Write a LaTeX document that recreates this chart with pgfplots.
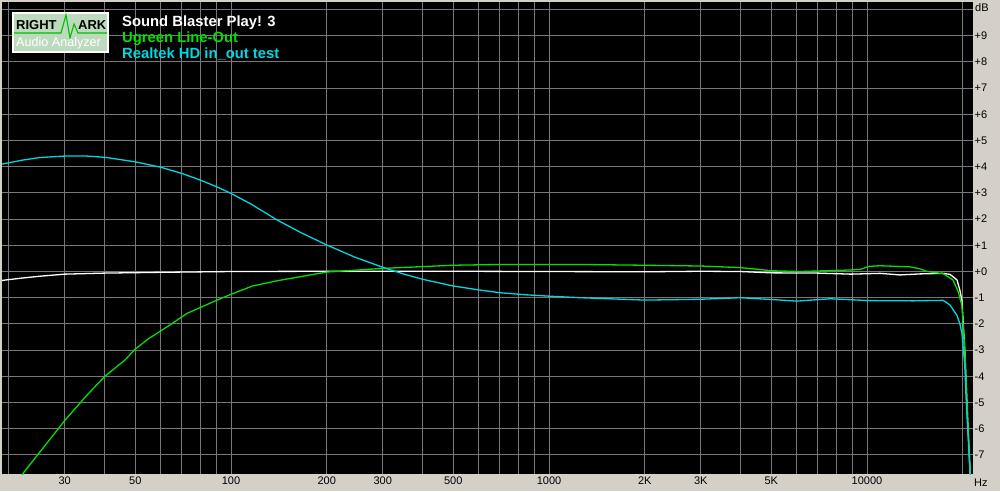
\documentclass[border=0pt]{standalone}
\usepackage{fontspec}
\setmainfont{Liberation Sans}
\usepackage{pgfplots}
\pgfplotsset{compat=1.18}
\definecolor{bgcol}{RGB}{212,208,200}
\definecolor{gridcol}{RGB}{120,120,120}
\definecolor{sbwhite}{RGB}{255,255,255}
\definecolor{uggreen}{RGB}{0,225,0}
\definecolor{rtcyan}{RGB}{0,215,225}
\definecolor{logobg}{RGB}{190,218,190}
\definecolor{logogreen}{RGB}{0,190,0}
\begin{document}
\begin{tikzpicture}[x=1pt,y=1pt]
\useasboundingbox (0,0) rectangle (1000,491);
\fill[bgcol] (0,0) rectangle (1000,491);
\begin{axis}[
  at={(2pt,17pt)}, anchor=south west,
  scale only axis, width=971pt, height=472pt,
  xmode=log, xmin=19.05, xmax=21544,
  ymin=-7.73, ymax=10.29,
  axis background/.style={fill=black},
  axis line style={draw=none},
  major tick length=0pt, minor tick length=0pt,
  xtick={30,50,100,200,300,500,1000,2000,3000,5000,10000},
  xticklabels={30,50,100,200,300,500,1000,2K,3K,5K,10000},
  minor xtick={20,40,60,70,80,90,400,600,700,800,900,4000,6000,7000,8000,9000,20000},
  ytick={-7,-6,-5,-4,-3,-2,-1,0,1,2,3,4,5,6,7,8,9,10},
  yticklabels={-7,-6,-5,-4,-3,-2,-1,+0,+1,+2,+3,+4,+5,+6,+7,+8,+9,{}},
  yticklabel pos=right,
  grid=both,
  major grid style={gridcol, line width=1pt},
  minor grid style={gridcol, line width=1pt},
  xticklabel style={anchor=north, inner sep=0pt, yshift=-3pt, font=\fontsize{11}{12}\selectfont, text=black},
  yticklabel style={anchor=west, inner sep=0pt, xshift=1.5pt, font=\fontsize{11}{12}\selectfont, text=black},
  every axis plot/.append style={line width=1.3pt, line join=round},
]
% Sound Blaster Play! 3
\addplot[sbwhite] coordinates {
(19.05,-0.34) (22,-0.25) (25,-0.18) (30,-0.1) (40,-0.06) (60,-0.03) (100,0) (200,0.01)
(300,0.01) (500,0.01) (1000,0.0) (2000,-0.01) (3000,0.01) (4000,0.0) (5000,-0.05) (7000,-0.06)
(8900,-0.1) (11000,-0.07) (12700,-0.13) (14700,-0.09) (17300,-0.07) (18250,-0.11)
(19190,-0.32) (19580,-0.7) (19880,-1.1) (20300,-3.0) (20700,-5.5) (21100,-7.7) (21300,-8.5)
};
% Ugreen Line-Out
\addplot[uggreen] coordinates {
(21.5,-8.0) (22.2,-7.7) (25.1,-6.88) (30.1,-5.67) (35.3,-4.71) (40.2,-3.99) (46.4,-3.38)
(49.9,-2.97) (54.8,-2.58) (64.3,-2.04) (72.7,-1.6) (90.4,-1.09) (100,-0.87) (117,-0.55)
(140,-0.35) (200,-0.02) (300,0.12) (500,0.24) (700,0.27) (1250,0.27) (2000,0.24)
(3000,0.21) (4000,0.15) (5000,0.03) (6150,0.0) (8870,0.06) (9500,0.08) (10190,0.2)
(11000,0.22) (13650,0.18) (14690,0.1) (15450,0.0) (17340,-0.08) (18640,-0.32)
(19330,-0.75) (19880,-1.3) (20300,-3.0) (20700,-5.5) (21100,-7.7) (21300,-8.5)
};
% Realtek HD in_out test
\addplot[rtcyan] coordinates {
(19.05,4.1) (22,4.25) (25,4.35) (30.1,4.41) (35,4.41) (40.2,4.36) (49.9,4.19) (60.2,3.98)
(70.7,3.73) (80.5,3.48) (90.4,3.23) (100,2.98) (114.7,2.6) (139.6,1.97) (165,1.5) (200.3,1.01)
(245,0.55) (300.4,0.16) (350,-0.1) (401.8,-0.3) (498.9,-0.55) (600,-0.7) (702,-0.81) (850,-0.89) (1000,-0.94) (1253,-1.0) (2000,-1.09)
(2978,-1.06) (3994,-1.0) (4870,-1.06) (6020,-1.13) (7660,-1.04) (10190,-1.11) (14000,-1.12)
(17340,-1.1) (18250,-1.28) (19190,-1.68) (19580,-1.98) (19880,-2.35) (20300,-3.6)
(20500,-4.9) (20900,-6.8) (21150,-7.96)
};
\end{axis}
% axis unit labels
\node[anchor=west, inner sep=0pt, font=\fontsize{11}{12}\selectfont] at (975,483.5) {dB};
\node[anchor=west, inner sep=0pt, font=\fontsize{11}{12}\selectfont] at (974,8) {Hz};
% legend
\node[anchor=base west, inner sep=0pt, text=sbwhite, font=\fontsize{14.8}{16}\selectfont\bfseries] at (122,464) {Sound Blaster Play! 3};
\node[anchor=base west, inner sep=0pt, text=uggreen, font=\fontsize{14.8}{16}\selectfont\bfseries] at (122,448) {Ugreen Line-Out};
\node[anchor=base west, inner sep=0pt, text=rtcyan, font=\fontsize{14.8}{16}\selectfont\bfseries] at (122,432) {Realtek HD in\_out test};
% logo
\fill[logobg] (13,439) rectangle (108,478);
\draw[white, line width=1.2pt] (13,439) rectangle (108,478);
\node[anchor=base west, inner sep=0pt, font=\fontsize{13}{14}\selectfont\bfseries] at (16,461) {RIGHT};
\node[anchor=base east, inner sep=0pt, font=\fontsize{13}{14}\selectfont\bfseries] at (106.5,461) {ARK};
\draw[logogreen, line width=1.1pt, line join=miter] (14,458) -- (61,458) -- (66,476) -- (70,453) -- (74,467) -- (78,458) -- (107,458);
\node[anchor=base west, inner sep=0pt, text=white, font=\fontsize{12.6}{14}\selectfont] at (16,444) {Audio Analyzer};
\end{tikzpicture}
\end{document}
